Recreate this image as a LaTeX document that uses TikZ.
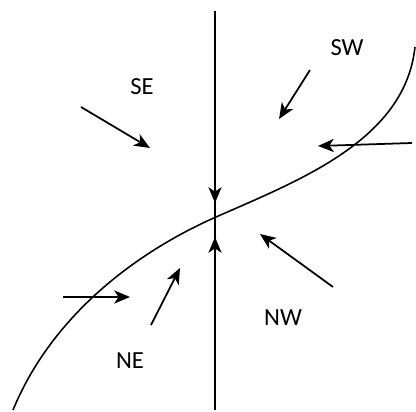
\documentclass[tikz,border=0pt]{standalone}
\usepackage{fontspec}
\setmainfont{Carlito}
\usetikzlibrary{arrows.meta}

\tikzset{
    flow/.style={-{Stealth[length=9pt,width=7.5pt,inset=2.5pt]}, line width=1pt},
    region/.style={font=\fontsize{14}{16}\selectfont, inner sep=0pt}
}

\begin{document}
\begin{tikzpicture}[x=0.02cm, y=-0.02cm, line width=0.9pt]
        \useasboundingbox (0,0) rectangle (416,412);

        \coordinate (top) at (215,11);
        \coordinate (bot) at (215,410);
        \coordinate (dn) at (215,203);
        \coordinate (up) at (215,237);
        \coordinate (c0) at (13,410);
        \coordinate (c1) at (216,217);
        \coordinate (c2) at (415,47);

        \node[region] (se) at (142,87) {SE};
        \node[region] (sw) at (347,48) {SW};
        \node[region] (nw) at (283,318) {NW};
        \node[region] (ne) at (130,361) {NE};

        \coordinate (se0) at (81,107);  \coordinate (se1) at (150,148);
        \coordinate (sw0) at (310,70);  \coordinate (sw1) at (279,119);
        \coordinate (e0) at (412,143);  \coordinate (e1) at (318,146);
        \coordinate (nw0) at (333,287); \coordinate (nw1) at (260,234);
        \coordinate (ne0) at (151,325); \coordinate (ne1) at (180,268);
        \coordinate (w0) at (63,297);   \coordinate (w1) at (130,297);

        \draw (top) -- (bot);
        \draw[flow] (top) -- (dn);
        \draw[flow] (bot) -- (up);

        \draw (c0) .. controls (50,320) and (130,255) .. (c1)
                   .. controls (300,180) and (405,140) .. (c2);

        \draw[flow] (se0) -- (se1);
        \draw[flow] (sw0) -- (sw1);
        \draw[flow] (e0) -- (e1);
        \draw[flow] (nw0) -- (nw1);
        \draw[flow] (ne0) -- (ne1);
        \draw[flow] (w0) -- (w1);
\end{tikzpicture}
\end{document}
